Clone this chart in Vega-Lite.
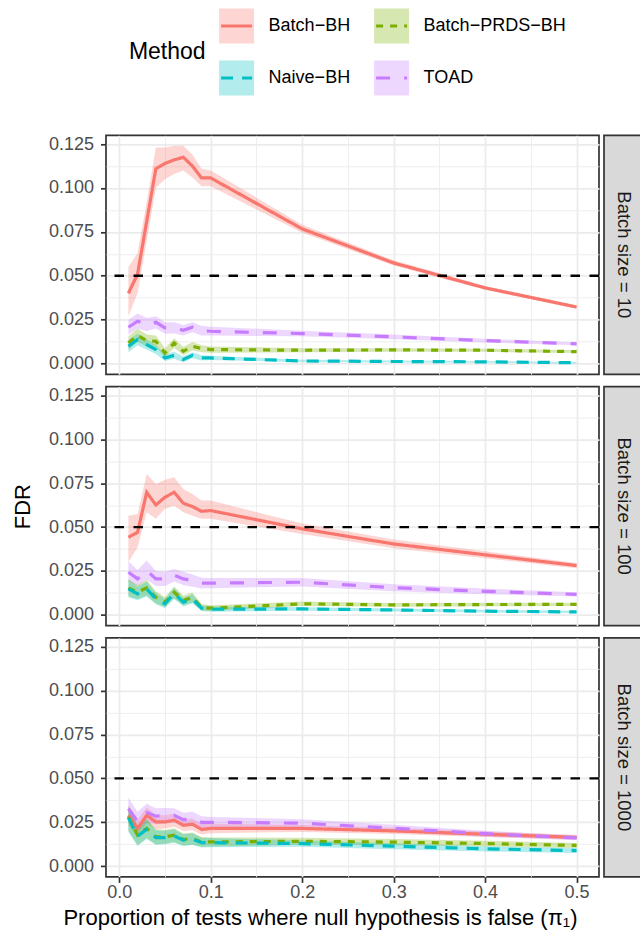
{
"$schema": "https://vega.github.io/schema/vega-lite/v6.json",
"padding": {"left": 10, "top": 0, "right": 1, "bottom": 0},
"spacing": 9.3,
"datasets": {
"d": [
{"b":10,"m":"Batch−BH","x":0.01,"y":0.040,"lo":0.027,"hi":0.055},
{"b":10,"m":"Batch−BH","x":0.02,"y":0.051,"lo":0.040,"hi":0.063},
{"b":10,"m":"Batch−BH","x":0.03,"y":0.081,"lo":0.070,"hi":0.092},
{"b":10,"m":"Batch−BH","x":0.04,"y":0.111,"lo":0.100,"hi":0.123},
{"b":10,"m":"Batch−BH","x":0.05,"y":0.114,"lo":0.105,"hi":0.123},
{"b":10,"m":"Batch−BH","x":0.06,"y":0.116,"lo":0.108,"hi":0.124},
{"b":10,"m":"Batch−BH","x":0.07,"y":0.1175,"lo":0.110,"hi":0.124},
{"b":10,"m":"Batch−BH","x":0.08,"y":0.1125,"lo":0.106,"hi":0.119},
{"b":10,"m":"Batch−BH","x":0.09,"y":0.1057,"lo":0.101,"hi":0.111},
{"b":10,"m":"Batch−BH","x":0.1,"y":0.1057,"lo":0.101,"hi":0.110},
{"b":10,"m":"Batch−BH","x":0.2,"y":0.0767,"lo":0.0745,"hi":0.079},
{"b":10,"m":"Batch−BH","x":0.3,"y":0.0573,"lo":0.0558,"hi":0.0588},
{"b":10,"m":"Batch−BH","x":0.4,"y":0.0431,"lo":0.042,"hi":0.0442},
{"b":10,"m":"Batch−BH","x":0.5,"y":0.0322,"lo":0.0312,"hi":0.0332},
{"b":10,"m":"TOAD","x":0.01,"y":0.0207,"lo":0.0165,"hi":0.025},
{"b":10,"m":"TOAD","x":0.02,"y":0.0241,"lo":0.020,"hi":0.0285},
{"b":10,"m":"TOAD","x":0.03,"y":0.0222,"lo":0.0185,"hi":0.026},
{"b":10,"m":"TOAD","x":0.04,"y":0.0235,"lo":0.020,"hi":0.027},
{"b":10,"m":"TOAD","x":0.05,"y":0.0203,"lo":0.017,"hi":0.0235},
{"b":10,"m":"TOAD","x":0.06,"y":0.0203,"lo":0.0172,"hi":0.0235},
{"b":10,"m":"TOAD","x":0.07,"y":0.019,"lo":0.016,"hi":0.022},
{"b":10,"m":"TOAD","x":0.08,"y":0.0207,"lo":0.0178,"hi":0.0236},
{"b":10,"m":"TOAD","x":0.09,"y":0.0188,"lo":0.016,"hi":0.0215},
{"b":10,"m":"TOAD","x":0.1,"y":0.0184,"lo":0.016,"hi":0.021},
{"b":10,"m":"TOAD","x":0.2,"y":0.0171,"lo":0.0155,"hi":0.0187},
{"b":10,"m":"TOAD","x":0.3,"y":0.0152,"lo":0.0139,"hi":0.0165},
{"b":10,"m":"TOAD","x":0.4,"y":0.0131,"lo":0.012,"hi":0.0142},
{"b":10,"m":"TOAD","x":0.5,"y":0.0112,"lo":0.0104,"hi":0.012},
{"b":10,"m":"Batch−PRDS−BH","x":0.01,"y":0.0117,"lo":0.008,"hi":0.0155},
{"b":10,"m":"Batch−PRDS−BH","x":0.02,"y":0.0161,"lo":0.0125,"hi":0.020},
{"b":10,"m":"Batch−PRDS−BH","x":0.03,"y":0.0131,"lo":0.0098,"hi":0.0165},
{"b":10,"m":"Batch−PRDS−BH","x":0.04,"y":0.0127,"lo":0.0095,"hi":0.016},
{"b":10,"m":"Batch−PRDS−BH","x":0.05,"y":0.006,"lo":0.0035,"hi":0.0088},
{"b":10,"m":"Batch−PRDS−BH","x":0.06,"y":0.0117,"lo":0.009,"hi":0.0145},
{"b":10,"m":"Batch−PRDS−BH","x":0.07,"y":0.007,"lo":0.0048,"hi":0.0095},
{"b":10,"m":"Batch−PRDS−BH","x":0.08,"y":0.0099,"lo":0.0075,"hi":0.0123},
{"b":10,"m":"Batch−PRDS−BH","x":0.09,"y":0.0085,"lo":0.0065,"hi":0.0105},
{"b":10,"m":"Batch−PRDS−BH","x":0.1,"y":0.008,"lo":0.0062,"hi":0.0098},
{"b":10,"m":"Batch−PRDS−BH","x":0.2,"y":0.0076,"lo":0.0064,"hi":0.0088},
{"b":10,"m":"Batch−PRDS−BH","x":0.3,"y":0.0078,"lo":0.0068,"hi":0.0088},
{"b":10,"m":"Batch−PRDS−BH","x":0.4,"y":0.0076,"lo":0.0067,"hi":0.0085},
{"b":10,"m":"Batch−PRDS−BH","x":0.5,"y":0.0068,"lo":0.006,"hi":0.0076},
{"b":10,"m":"Naive−BH","x":0.01,"y":0.0099,"lo":0.0065,"hi":0.0135},
{"b":10,"m":"Naive−BH","x":0.02,"y":0.0137,"lo":0.0105,"hi":0.017},
{"b":10,"m":"Naive−BH","x":0.03,"y":0.0108,"lo":0.008,"hi":0.0138},
{"b":10,"m":"Naive−BH","x":0.04,"y":0.008,"lo":0.0055,"hi":0.0106},
{"b":10,"m":"Naive−BH","x":0.05,"y":0.0032,"lo":0.0015,"hi":0.005},
{"b":10,"m":"Naive−BH","x":0.06,"y":0.0047,"lo":0.0028,"hi":0.0067},
{"b":10,"m":"Naive−BH","x":0.07,"y":0.0023,"lo":0.0008,"hi":0.004},
{"b":10,"m":"Naive−BH","x":0.08,"y":0.0047,"lo":0.003,"hi":0.0065},
{"b":10,"m":"Naive−BH","x":0.09,"y":0.0032,"lo":0.0018,"hi":0.0047},
{"b":10,"m":"Naive−BH","x":0.1,"y":0.0032,"lo":0.002,"hi":0.0045},
{"b":10,"m":"Naive−BH","x":0.2,"y":0.0015,"lo":0.0008,"hi":0.0022},
{"b":10,"m":"Naive−BH","x":0.3,"y":0.0012,"lo":0.0006,"hi":0.0018},
{"b":10,"m":"Naive−BH","x":0.4,"y":0.001,"lo":0.0005,"hi":0.0015},
{"b":10,"m":"Naive−BH","x":0.5,"y":0.0005,"lo":0.0001,"hi":0.0009},
{"b":100,"m":"Batch−BH","x":0.01,"y":0.0442,"lo":0.030,"hi":0.0565},
{"b":100,"m":"Batch−BH","x":0.02,"y":0.047,"lo":0.0385,"hi":0.0575},
{"b":100,"m":"Batch−BH","x":0.03,"y":0.0698,"lo":0.0584,"hi":0.0803},
{"b":100,"m":"Batch−BH","x":0.04,"y":0.0626,"lo":0.0547,"hi":0.0746},
{"b":100,"m":"Batch−BH","x":0.05,"y":0.067,"lo":0.0604,"hi":0.077},
{"b":100,"m":"Batch−BH","x":0.06,"y":0.0698,"lo":0.0622,"hi":0.0784},
{"b":100,"m":"Batch−BH","x":0.07,"y":0.0636,"lo":0.0584,"hi":0.0717},
{"b":100,"m":"Batch−BH","x":0.08,"y":0.0617,"lo":0.0565,"hi":0.0689},
{"b":100,"m":"Batch−BH","x":0.09,"y":0.059,"lo":0.0547,"hi":0.0651},
{"b":100,"m":"Batch−BH","x":0.1,"y":0.0594,"lo":0.0547,"hi":0.0651},
{"b":100,"m":"Batch−BH","x":0.2,"y":0.049,"lo":0.046,"hi":0.052},
{"b":100,"m":"Batch−BH","x":0.3,"y":0.0404,"lo":0.0379,"hi":0.0429},
{"b":100,"m":"Batch−BH","x":0.4,"y":0.0342,"lo":0.0322,"hi":0.0362},
{"b":100,"m":"Batch−BH","x":0.5,"y":0.0281,"lo":0.0266,"hi":0.0296},
{"b":100,"m":"TOAD","x":0.01,"y":0.0243,"lo":0.019,"hi":0.0305},
{"b":100,"m":"TOAD","x":0.02,"y":0.0205,"lo":0.0165,"hi":0.0255},
{"b":100,"m":"TOAD","x":0.03,"y":0.0252,"lo":0.020,"hi":0.031},
{"b":100,"m":"TOAD","x":0.04,"y":0.0205,"lo":0.0165,"hi":0.025},
{"b":100,"m":"TOAD","x":0.05,"y":0.0205,"lo":0.0165,"hi":0.0245},
{"b":100,"m":"TOAD","x":0.06,"y":0.0226,"lo":0.019,"hi":0.0262},
{"b":100,"m":"TOAD","x":0.07,"y":0.0205,"lo":0.017,"hi":0.0245},
{"b":100,"m":"TOAD","x":0.08,"y":0.0195,"lo":0.016,"hi":0.023},
{"b":100,"m":"TOAD","x":0.09,"y":0.0181,"lo":0.015,"hi":0.0212},
{"b":100,"m":"TOAD","x":0.1,"y":0.0181,"lo":0.0152,"hi":0.021},
{"b":100,"m":"TOAD","x":0.2,"y":0.0186,"lo":0.0162,"hi":0.021},
{"b":100,"m":"TOAD","x":0.3,"y":0.0155,"lo":0.0135,"hi":0.0175},
{"b":100,"m":"TOAD","x":0.4,"y":0.0134,"lo":0.0118,"hi":0.015},
{"b":100,"m":"TOAD","x":0.5,"y":0.0117,"lo":0.0105,"hi":0.0129},
{"b":100,"m":"Batch−PRDS−BH","x":0.01,"y":0.0154,"lo":0.0105,"hi":0.0205},
{"b":100,"m":"Batch−PRDS−BH","x":0.02,"y":0.0129,"lo":0.009,"hi":0.017},
{"b":100,"m":"Batch−PRDS−BH","x":0.03,"y":0.0154,"lo":0.011,"hi":0.020},
{"b":100,"m":"Batch−PRDS−BH","x":0.04,"y":0.01,"lo":0.0065,"hi":0.0135},
{"b":100,"m":"Batch−PRDS−BH","x":0.05,"y":0.0072,"lo":0.0045,"hi":0.0102},
{"b":100,"m":"Batch−PRDS−BH","x":0.06,"y":0.0129,"lo":0.0095,"hi":0.0162},
{"b":100,"m":"Batch−PRDS−BH","x":0.07,"y":0.0081,"lo":0.0055,"hi":0.011},
{"b":100,"m":"Batch−PRDS−BH","x":0.08,"y":0.01,"lo":0.0072,"hi":0.0128},
{"b":100,"m":"Batch−PRDS−BH","x":0.09,"y":0.0043,"lo":0.0025,"hi":0.0062},
{"b":100,"m":"Batch−PRDS−BH","x":0.1,"y":0.0038,"lo":0.0022,"hi":0.0055},
{"b":100,"m":"Batch−PRDS−BH","x":0.2,"y":0.0063,"lo":0.005,"hi":0.0076},
{"b":100,"m":"Batch−PRDS−BH","x":0.3,"y":0.0057,"lo":0.0046,"hi":0.0068},
{"b":100,"m":"Batch−PRDS−BH","x":0.4,"y":0.0059,"lo":0.0049,"hi":0.0069},
{"b":100,"m":"Batch−PRDS−BH","x":0.5,"y":0.006,"lo":0.0051,"hi":0.0069},
{"b":100,"m":"Naive−BH","x":0.01,"y":0.0148,"lo":0.010,"hi":0.0198},
{"b":100,"m":"Naive−BH","x":0.02,"y":0.012,"lo":0.0083,"hi":0.016},
{"b":100,"m":"Naive−BH","x":0.03,"y":0.0148,"lo":0.0105,"hi":0.019},
{"b":100,"m":"Naive−BH","x":0.04,"y":0.0091,"lo":0.006,"hi":0.0125},
{"b":100,"m":"Naive−BH","x":0.05,"y":0.0063,"lo":0.0038,"hi":0.009},
{"b":100,"m":"Naive−BH","x":0.06,"y":0.0123,"lo":0.009,"hi":0.0155},
{"b":100,"m":"Naive−BH","x":0.07,"y":0.0072,"lo":0.0048,"hi":0.0098},
{"b":100,"m":"Naive−BH","x":0.08,"y":0.0091,"lo":0.0065,"hi":0.0118},
{"b":100,"m":"Naive−BH","x":0.09,"y":0.0038,"lo":0.0022,"hi":0.0055},
{"b":100,"m":"Naive−BH","x":0.1,"y":0.0032,"lo":0.0018,"hi":0.0048},
{"b":100,"m":"Naive−BH","x":0.2,"y":0.0034,"lo":0.0024,"hi":0.0044},
{"b":100,"m":"Naive−BH","x":0.3,"y":0.0028,"lo":0.0019,"hi":0.0037},
{"b":100,"m":"Naive−BH","x":0.4,"y":0.0021,"lo":0.0013,"hi":0.0029},
{"b":100,"m":"Naive−BH","x":0.5,"y":0.0017,"lo":0.001,"hi":0.0024},
{"b":1000,"m":"Batch−BH","x":0.01,"y":0.029,"lo":0.023,"hi":0.035},
{"b":1000,"m":"Batch−BH","x":0.02,"y":0.0215,"lo":0.017,"hi":0.0265},
{"b":1000,"m":"Batch−BH","x":0.03,"y":0.029,"lo":0.0245,"hi":0.0335},
{"b":1000,"m":"Batch−BH","x":0.04,"y":0.0252,"lo":0.021,"hi":0.0292},
{"b":1000,"m":"Batch−BH","x":0.05,"y":0.0252,"lo":0.0215,"hi":0.029},
{"b":1000,"m":"Batch−BH","x":0.06,"y":0.0262,"lo":0.0225,"hi":0.0298},
{"b":1000,"m":"Batch−BH","x":0.07,"y":0.0233,"lo":0.020,"hi":0.0268},
{"b":1000,"m":"Batch−BH","x":0.08,"y":0.0239,"lo":0.0205,"hi":0.0272},
{"b":1000,"m":"Batch−BH","x":0.09,"y":0.0209,"lo":0.018,"hi":0.024},
{"b":1000,"m":"Batch−BH","x":0.1,"y":0.0215,"lo":0.0188,"hi":0.0242},
{"b":1000,"m":"Batch−BH","x":0.2,"y":0.0215,"lo":0.0195,"hi":0.0235},
{"b":1000,"m":"Batch−BH","x":0.3,"y":0.0201,"lo":0.0183,"hi":0.0219},
{"b":1000,"m":"Batch−BH","x":0.4,"y":0.0182,"lo":0.0166,"hi":0.0198},
{"b":1000,"m":"Batch−BH","x":0.5,"y":0.0164,"lo":0.015,"hi":0.0178},
{"b":1000,"m":"TOAD","x":0.01,"y":0.0328,"lo":0.026,"hi":0.039},
{"b":1000,"m":"TOAD","x":0.02,"y":0.0255,"lo":0.020,"hi":0.031},
{"b":1000,"m":"TOAD","x":0.03,"y":0.0305,"lo":0.025,"hi":0.0355},
{"b":1000,"m":"TOAD","x":0.04,"y":0.0285,"lo":0.024,"hi":0.033},
{"b":1000,"m":"TOAD","x":0.05,"y":0.029,"lo":0.0245,"hi":0.0332},
{"b":1000,"m":"TOAD","x":0.06,"y":0.029,"lo":0.025,"hi":0.033},
{"b":1000,"m":"TOAD","x":0.07,"y":0.0265,"lo":0.0225,"hi":0.0305},
{"b":1000,"m":"TOAD","x":0.08,"y":0.027,"lo":0.023,"hi":0.031},
{"b":1000,"m":"TOAD","x":0.09,"y":0.025,"lo":0.0215,"hi":0.0285},
{"b":1000,"m":"TOAD","x":0.1,"y":0.025,"lo":0.022,"hi":0.028},
{"b":1000,"m":"TOAD","x":0.2,"y":0.0245,"lo":0.0222,"hi":0.0268},
{"b":1000,"m":"TOAD","x":0.3,"y":0.0216,"lo":0.0196,"hi":0.0236},
{"b":1000,"m":"TOAD","x":0.4,"y":0.0185,"lo":0.0168,"hi":0.0202},
{"b":1000,"m":"TOAD","x":0.5,"y":0.0161,"lo":0.0147,"hi":0.0175},
{"b":1000,"m":"Batch−PRDS−BH","x":0.01,"y":0.0281,"lo":0.020,"hi":0.034},
{"b":1000,"m":"Batch−PRDS−BH","x":0.02,"y":0.0177,"lo":0.012,"hi":0.023},
{"b":1000,"m":"Batch−PRDS−BH","x":0.03,"y":0.0215,"lo":0.016,"hi":0.027},
{"b":1000,"m":"Batch−PRDS−BH","x":0.04,"y":0.0167,"lo":0.0125,"hi":0.021},
{"b":1000,"m":"Batch−PRDS−BH","x":0.05,"y":0.0167,"lo":0.0128,"hi":0.0206},
{"b":1000,"m":"Batch−PRDS−BH","x":0.06,"y":0.0177,"lo":0.0138,"hi":0.0216},
{"b":1000,"m":"Batch−PRDS−BH","x":0.07,"y":0.0152,"lo":0.0118,"hi":0.0186},
{"b":1000,"m":"Batch−PRDS−BH","x":0.08,"y":0.0158,"lo":0.0124,"hi":0.0192},
{"b":1000,"m":"Batch−PRDS−BH","x":0.09,"y":0.0138,"lo":0.011,"hi":0.0166},
{"b":1000,"m":"Batch−PRDS−BH","x":0.1,"y":0.0138,"lo":0.0112,"hi":0.0164},
{"b":1000,"m":"Batch−PRDS−BH","x":0.2,"y":0.0142,"lo":0.0122,"hi":0.0162},
{"b":1000,"m":"Batch−PRDS−BH","x":0.3,"y":0.0137,"lo":0.0119,"hi":0.0155},
{"b":1000,"m":"Batch−PRDS−BH","x":0.4,"y":0.0129,"lo":0.0113,"hi":0.0145},
{"b":1000,"m":"Batch−PRDS−BH","x":0.5,"y":0.0118,"lo":0.0104,"hi":0.0132},
{"b":1000,"m":"Naive−BH","x":0.01,"y":0.0275,"lo":0.0195,"hi":0.0335},
{"b":1000,"m":"Naive−BH","x":0.02,"y":0.017,"lo":0.0115,"hi":0.0225},
{"b":1000,"m":"Naive−BH","x":0.03,"y":0.021,"lo":0.0155,"hi":0.0265},
{"b":1000,"m":"Naive−BH","x":0.04,"y":0.0163,"lo":0.012,"hi":0.0205},
{"b":1000,"m":"Naive−BH","x":0.05,"y":0.0163,"lo":0.0125,"hi":0.0202},
{"b":1000,"m":"Naive−BH","x":0.06,"y":0.0172,"lo":0.0133,"hi":0.0211},
{"b":1000,"m":"Naive−BH","x":0.07,"y":0.0148,"lo":0.0115,"hi":0.0182},
{"b":1000,"m":"Naive−BH","x":0.08,"y":0.0154,"lo":0.012,"hi":0.0188},
{"b":1000,"m":"Naive−BH","x":0.09,"y":0.0134,"lo":0.0106,"hi":0.0162},
{"b":1000,"m":"Naive−BH","x":0.1,"y":0.0134,"lo":0.0108,"hi":0.016},
{"b":1000,"m":"Naive−BH","x":0.2,"y":0.0129,"lo":0.011,"hi":0.0148},
{"b":1000,"m":"Naive−BH","x":0.3,"y":0.0114,"lo":0.0097,"hi":0.0131},
{"b":1000,"m":"Naive−BH","x":0.4,"y":0.0099,"lo":0.0084,"hi":0.0114},
{"b":1000,"m":"Naive−BH","x":0.5,"y":0.0089,"lo":0.0075,"hi":0.0103}
]
},
"vconcat": [
{
"width": 493, "height": 123.85,
"view": {"stroke": null},
"layer": [
{"data": {"values": [
{"m":"Batch−BH","c":0,"r":0},
{"m":"Batch−PRDS−BH","c":1,"r":0},
{"m":"Naive−BH","c":0,"r":1},
{"m":"TOAD","c":1,"r":1}
]},
 "layer": [
 {"mark": {"type":"square","size":1225,"opacity":0.3,"filled":true},
  "encoding": {
   "x": {"field":"c","type":"quantitative","scale":{"domain":[0,1],"range":[130.6,285.6]},"axis":null},
   "y": {"field":"r","type":"quantitative","scale":{"domain":[0,1],"range":[26,78]},"axis":null},
   "color": {"field":"m","type":"nominal","scale":{"domain":["Batch−BH","Batch−PRDS−BH","Naive−BH","TOAD"],"range":["#F8766D","#7CAE00","#00BFC4","#C77CFF"]},"legend":null}}},
 {"mark": {"type":"rule","strokeWidth":3,"xOffset":-15.5,"x2Offset":15.5},
  "encoding": {
   "x": {"field":"c","type":"quantitative"},
   "x2": {"field":"c"},
   "y": {"field":"r","type":"quantitative"},
   "color": {"field":"m","type":"nominal","scale":{"domain":["Batch−BH","Batch−PRDS−BH","Naive−BH","TOAD"],"range":["#F8766D","#7CAE00","#00BFC4","#C77CFF"]},"legend":null},
   "strokeDash": {"field":"m","type":"nominal","scale":{"domain":["Batch−BH","Batch−PRDS−BH","Naive−BH","TOAD"],"range":[[1,0],[7,7],[12,9],[14,14]]},"legend":null}}},
 {"mark": {"type":"text","align":"left","baseline":"middle","dx":32,"fontSize":18,"fontWeight":"normal","color":"#000000"},
  "encoding": {
   "x": {"field":"c","type":"quantitative"},
   "y": {"field":"r","type":"quantitative"},
   "text": {"field":"m"}}}
 ]},
{"data": {"values": [{"t":"Method"}]},
 "mark": {"type":"text","align":"right","baseline":"middle","fontSize":23,"fontWeight":"normal","color":"#000000"},
 "encoding": {"x": {"datum": -0.2, "type":"quantitative"}, "y": {"datum": 0.5, "type":"quantitative"}, "text": {"field":"t"}}}
]
},
{
"hconcat": [
{
"width": 493, "height": 239,
"layer": [
{"data": {"name":"d"}, "transform": [{"filter":"datum.b == 10"}],
 "mark": {"type":"area","opacity":0.3},
 "encoding": {
  "x": {"field":"x","type":"quantitative","scale":{"domain":[-0.0145,0.5245],"nice":false,"zero":false},
        "axis":{"orient":"top","values":[0.05,0.15,0.25,0.35,0.45],"labels":false,"ticks":false,"domain":false,"title":null,"grid":true,"gridWidth":0.85,"minExtent":0,"maxExtent":0,"offset":0}},
  "y": {"field":"lo","type":"quantitative","scale":{"domain":[-0.0061,0.13],"nice":false,"zero":false},
        "axis":{"orient":"right","values":[0.0125,0.0375,0.0625,0.0875,0.1125],"labels":false,"ticks":false,"domain":false,"title":null,"grid":true,"gridWidth":0.85,"minExtent":0,"maxExtent":0,"offset":0}},
  "y2": {"field":"hi"},
  "fill": {"field":"m","type":"nominal","scale":{"domain":["Batch−BH","Batch−PRDS−BH","Naive−BH","TOAD"],"range":["#F8766D","#7CAE00","#00BFC4","#C77CFF"]},"legend":null}
 }},
{"data": {"name":"d"}, "transform": [{"filter":"datum.b == 10"}],
 "mark": {"type":"line","strokeWidth":3.2},
 "encoding": {
  "x": {"field":"x","type":"quantitative","scale":{"domain":[-0.0145,0.5245],"nice":false,"zero":false},
        "axis":{"orient":"bottom","values":[0,0.1,0.2,0.3,0.4,0.5],"labels":false,"ticks":false,"domain":false,"title":null,"grid":true,"gridWidth":1.7,"minExtent":0,"maxExtent":0,"offset":0}},
  "y": {"field":"y","type":"quantitative","scale":{"domain":[-0.0061,0.13],"nice":false,"zero":false},
        "axis":{"orient":"left","values":[0,0.025,0.05,0.075,0.1,0.125],"format":".3f","grid":true,"gridWidth":1.7,"title":"FDR","titleOpacity":0,"labelPadding":7,"titlePadding":14}},
  "color": {"field":"m","type":"nominal","scale":{"domain":["Batch−BH","Batch−PRDS−BH","Naive−BH","TOAD"],"range":["#F8766D","#7CAE00","#00BFC4","#C77CFF"]},"legend":null},
  "strokeDash": {"field":"m","type":"nominal","scale":{"domain":["Batch−BH","Batch−PRDS−BH","Naive−BH","TOAD"],"range":[[1,0],[7,7],[12,9],[14,14]]},"legend":null}
 }},
{"data": {"values":[{"h":0.05}]},
 "mark": {"type":"rule","strokeDash":[9.5,9.5],"strokeWidth":2.4,"color":"#000000"},
 "encoding": {"y": {"field":"h","type":"quantitative","scale":{"domain":[-0.0061,0.13],"nice":false,"zero":false},"axis":null}}}
],
"resolve": {"axis": {"x":"independent","y":"independent"}}
},
{
"width": 39, "height": 239,
"view": {"fill":"#D9D9D9","stroke":"#333333","strokeWidth":1.7},
"data": {"values":[{"s":"Batch size = 10"}]},
"mark": {"type":"text","angle":90,"fontSize":18.5,"color":"#1A1A1A","align":"center","baseline":"middle"},
"encoding": {"text": {"field":"s"}}
}
],
"spacing": 1
},
{
"hconcat": [
{
"width": 493, "height": 239,
"layer": [
{"data": {"name":"d"}, "transform": [{"filter":"datum.b == 100"}],
 "mark": {"type":"area","opacity":0.3},
 "encoding": {
  "x": {"field":"x","type":"quantitative","scale":{"domain":[-0.0145,0.5245],"nice":false,"zero":false},
        "axis":{"orient":"top","values":[0.05,0.15,0.25,0.35,0.45],"labels":false,"ticks":false,"domain":false,"title":null,"grid":true,"gridWidth":0.85,"minExtent":0,"maxExtent":0,"offset":0}},
  "y": {"field":"lo","type":"quantitative","scale":{"domain":[-0.0061,0.13],"nice":false,"zero":false},
        "axis":{"orient":"right","values":[0.0125,0.0375,0.0625,0.0875,0.1125],"labels":false,"ticks":false,"domain":false,"title":null,"grid":true,"gridWidth":0.85,"minExtent":0,"maxExtent":0,"offset":0}},
  "y2": {"field":"hi"},
  "fill": {"field":"m","type":"nominal","scale":{"domain":["Batch−BH","Batch−PRDS−BH","Naive−BH","TOAD"],"range":["#F8766D","#7CAE00","#00BFC4","#C77CFF"]},"legend":null}
 }},
{"data": {"name":"d"}, "transform": [{"filter":"datum.b == 100"}],
 "mark": {"type":"line","strokeWidth":3.2},
 "encoding": {
  "x": {"field":"x","type":"quantitative","scale":{"domain":[-0.0145,0.5245],"nice":false,"zero":false},
        "axis":{"orient":"bottom","values":[0,0.1,0.2,0.3,0.4,0.5],"labels":false,"ticks":false,"domain":false,"title":null,"grid":true,"gridWidth":1.7,"minExtent":0,"maxExtent":0,"offset":0}},
  "y": {"field":"y","type":"quantitative","scale":{"domain":[-0.0061,0.13],"nice":false,"zero":false},
        "axis":{"orient":"left","values":[0,0.025,0.05,0.075,0.1,0.125],"format":".3f","grid":true,"gridWidth":1.7,"title":"FDR","labelPadding":7,"titlePadding":14}},
  "color": {"field":"m","type":"nominal","scale":{"domain":["Batch−BH","Batch−PRDS−BH","Naive−BH","TOAD"],"range":["#F8766D","#7CAE00","#00BFC4","#C77CFF"]},"legend":null},
  "strokeDash": {"field":"m","type":"nominal","scale":{"domain":["Batch−BH","Batch−PRDS−BH","Naive−BH","TOAD"],"range":[[1,0],[7,7],[12,9],[14,14]]},"legend":null}
 }},
{"data": {"values":[{"h":0.05}]},
 "mark": {"type":"rule","strokeDash":[9.5,9.5],"strokeWidth":2.4,"color":"#000000"},
 "encoding": {"y": {"field":"h","type":"quantitative","scale":{"domain":[-0.0061,0.13],"nice":false,"zero":false},"axis":null}}}
],
"resolve": {"axis": {"x":"independent","y":"independent"}}
},
{
"width": 39, "height": 239,
"view": {"fill":"#D9D9D9","stroke":"#333333","strokeWidth":1.7},
"data": {"values":[{"s":"Batch size = 100"}]},
"mark": {"type":"text","angle":90,"fontSize":18.5,"color":"#1A1A1A","align":"center","baseline":"middle"},
"encoding": {"text": {"field":"s"}}
}
],
"spacing": 1
},
{
"hconcat": [
{
"width": 493, "height": 239,
"layer": [
{"data": {"name":"d"}, "transform": [{"filter":"datum.b == 1000"}],
 "mark": {"type":"area","opacity":0.3},
 "encoding": {
  "x": {"field":"x","type":"quantitative","scale":{"domain":[-0.0145,0.5245],"nice":false,"zero":false},
        "axis":{"orient":"top","values":[0.05,0.15,0.25,0.35,0.45],"labels":false,"ticks":false,"domain":false,"title":null,"grid":true,"gridWidth":0.85,"minExtent":0,"maxExtent":0,"offset":0}},
  "y": {"field":"lo","type":"quantitative","scale":{"domain":[-0.0061,0.13],"nice":false,"zero":false},
        "axis":{"orient":"right","values":[0.0125,0.0375,0.0625,0.0875,0.1125],"labels":false,"ticks":false,"domain":false,"title":null,"grid":true,"gridWidth":0.85,"minExtent":0,"maxExtent":0,"offset":0}},
  "y2": {"field":"hi"},
  "fill": {"field":"m","type":"nominal","scale":{"domain":["Batch−BH","Batch−PRDS−BH","Naive−BH","TOAD"],"range":["#F8766D","#7CAE00","#00BFC4","#C77CFF"]},"legend":null}
 }},
{"data": {"name":"d"}, "transform": [{"filter":"datum.b == 1000"}],
 "mark": {"type":"line","strokeWidth":3.2},
 "encoding": {
  "x": {"field":"x","type":"quantitative","scale":{"domain":[-0.0145,0.5245],"nice":false,"zero":false},
        "axis":{"orient":"bottom","values":[0,0.1,0.2,0.3,0.4,0.5],"format":".1f","grid":true,"gridWidth":1.7,"labelPadding":1,
                "title":"Proportion of tests where null hypothesis is false (π₁)","titlePadding":6,"titleX":214,"titleAlign":"center"}},
  "y": {"field":"y","type":"quantitative","scale":{"domain":[-0.0061,0.13],"nice":false,"zero":false},
        "axis":{"orient":"left","values":[0,0.025,0.05,0.075,0.1,0.125],"format":".3f","grid":true,"gridWidth":1.7,"title":"FDR","titleOpacity":0,"labelPadding":7,"titlePadding":14}},
  "color": {"field":"m","type":"nominal","scale":{"domain":["Batch−BH","Batch−PRDS−BH","Naive−BH","TOAD"],"range":["#F8766D","#7CAE00","#00BFC4","#C77CFF"]},"legend":null},
  "strokeDash": {"field":"m","type":"nominal","scale":{"domain":["Batch−BH","Batch−PRDS−BH","Naive−BH","TOAD"],"range":[[1,0],[7,7],[12,9],[14,14]]},"legend":null}
 }},
{"data": {"values":[{"h":0.05}]},
 "mark": {"type":"rule","strokeDash":[9.5,9.5],"strokeWidth":2.4,"color":"#000000"},
 "encoding": {"y": {"field":"h","type":"quantitative","scale":{"domain":[-0.0061,0.13],"nice":false,"zero":false},"axis":null}}}
],
"resolve": {"axis": {"x":"independent","y":"independent"}}
},
{
"width": 39, "height": 239,
"view": {"fill":"#D9D9D9","stroke":"#333333","strokeWidth":1.7},
"data": {"values":[{"s":"Batch size = 1000"}]},
"mark": {"type":"text","angle":90,"fontSize":18.5,"color":"#1A1A1A","align":"center","baseline":"middle"},
"encoding": {"text": {"field":"s"}}
}
],
"spacing": 1
}
],
"config": {
"font": "Liberation Sans",
"view": {"stroke": "#333333", "strokeWidth": 1.7},
"axis": {"domain": false, "gridColor": "#EBEBEB", "tickColor": "#333333", "tickSize": 5.5, "tickWidth": 1.7,
         "labelColor": "#4D4D4D", "labelFontSize": 18, "labelFont": "Liberation Sans",
         "titleFont": "Liberation Sans", "titleFontSize": 22, "titleFontWeight": "normal", "titleColor": "#000000"},
"text": {"font": "Liberation Sans"}
}
}
